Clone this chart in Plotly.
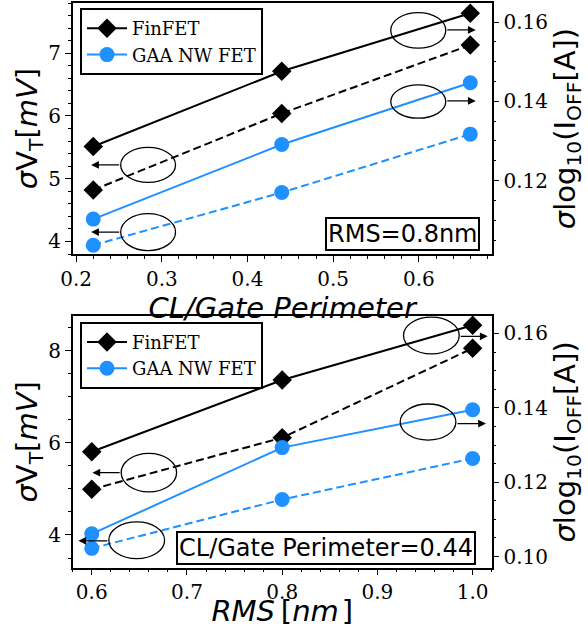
import plotly.graph_objects as go

# ---------------- data ----------------
x_cl = [0.22, 0.44, 0.66]
top_fin_vt = [4.82, 6.04, 7.13]        # dashed, left axis (sigma VT)
top_gaa_vt = [3.94, 4.78, 5.71]
top_fin_ioff = [0.1286, 0.1476, 0.1622]  # solid, right axis
top_gaa_ioff = [0.1103, 0.1291, 0.1447]

x_rms = [0.6, 0.8, 1.0]
bot_fin_vt = [4.99, 6.11, 8.05]
bot_gaa_vt = [3.71, 4.77, 5.66]
bot_fin_ioff = [0.1282, 0.1475, 0.1622]
bot_gaa_ioff = [0.1061, 0.1293, 0.1395]

series_names = ["FinFET", "GAA NW FET"]
box_labels = ["RMS=0.8nm", "CL/Gate Perimeter=0.44"]

BLACK = "black"
BLUE = "#1E90FF"
W, H = 588, 628

fig = go.Figure()

def add_series(x, y, color, symbol, size, dash, xa, ya, name, showlegend, legend):
    fig.add_trace(go.Scatter(
        x=x, y=y, mode="lines+markers", name=name,
        line=dict(color=color, width=2, dash=dash),
        marker=dict(color=color, symbol=symbol, size=size, line=dict(width=0)),
        xaxis=xa, yaxis=ya, showlegend=showlegend, legend=legend,
    ))

# top panel
add_series(x_cl, top_fin_ioff, BLACK, "diamond", 15, "solid", "x", "y2", series_names[0], True, "legend")
add_series(x_cl, top_gaa_ioff, BLUE, "circle", 15, "solid", "x", "y2", series_names[1], True, "legend")
add_series(x_cl, top_fin_vt, BLACK, "diamond", 15, "8px,4px", "x", "y", series_names[0], False, "legend")
add_series(x_cl, top_gaa_vt, BLUE, "circle", 15, "8px,4px", "x", "y", series_names[1], False, "legend")
# bottom panel
add_series(x_rms, bot_fin_ioff, BLACK, "diamond", 15, "solid", "x2", "y4", series_names[0], True, "legend2")
add_series(x_rms, bot_gaa_ioff, BLUE, "circle", 15, "solid", "x2", "y4", series_names[1], True, "legend2")
add_series(x_rms, bot_fin_vt, BLACK, "diamond", 15, "8px,4px", "x2", "y3", series_names[0], False, "legend2")
add_series(x_rms, bot_gaa_vt, BLUE, "circle", 15, "8px,4px", "x2", "y3", series_names[1], False, "legend2")

xdom = [72.7 / W, 491.7 / W]
top_dom = [1 - 254 / H, 1 - 3 / H]
bot_dom = [1 - 567.7 / H, 1 - 316 / H]

tickfont = dict(family="DejaVu Serif", size=20, color="black")
titlefont = dict(family="DejaVu Sans", size=29, color="black")

def axis(**kw):
    base = dict(showgrid=False, zeroline=False, showline=True, linecolor="black", linewidth=1.5,
                ticks="outside", ticklen=6, tickwidth=1.2, tickcolor="black", tickfont=tickfont,
                automargin=False)
    base.update(kw)
    return base

fig.update_layout(
    width=W, height=H, autosize=False,
    margin=dict(l=0, r=0, t=0, b=0),
    paper_bgcolor="white", plot_bgcolor="white",
    xaxis=axis(domain=xdom, anchor="y", range=[0.196, 0.685], dtick=0.1, tick0=0.2, mirror=True,
               minor=dict(dtick=0.02, ticks="outside", ticklen=3, tickcolor="black"),
               title=dict(text="<i>CL/Gate Perimeter</i>", font=titlefont, standoff=0)),
    yaxis=axis(domain=top_dom, anchor="x", range=[3.8, 7.8], dtick=1,
               minor=dict(dtick=0.2, ticks="outside", ticklen=3, tickcolor="black"),
               title=dict(text="<i>σ</i>V<sub>T</sub>[<i>mV</i>]", font=titlefont, standoff=2)),
    yaxis2=axis(domain=top_dom, anchor="x", overlaying="y", side="right", range=[0.1015, 0.1648],
                dtick=0.02, tick0=0.1, tickformat=".2f",
                minor=dict(dtick=0.005, ticks="outside", ticklen=3, tickcolor="black"),
                title=dict(text="<i>σ</i>log<sub>10</sub>(I<sub>OFF</sub>[A])", font=titlefont, standoff=2)),
    xaxis2=axis(domain=xdom, anchor="y3", range=[0.58, 1.02], dtick=0.1, tick0=0.6, tickformat=".1f", mirror=True,
                minor=dict(dtick=0.02, ticks="outside", ticklen=3, tickcolor="black"),
                title=dict(text="<i>RMS</i>\u2009[<i>nm</i>\u200a]", font=titlefont, standoff=4)),
    yaxis3=axis(domain=bot_dom, anchor="x2", range=[3.29, 8.75], dtick=2,
                minor=dict(dtick=0.5, ticks="outside", ticklen=3, tickcolor="black"),
                title=dict(text="<i>σ</i>V<sub>T</sub>[<i>mV</i>]", font=titlefont, standoff=2)),
    yaxis4=axis(domain=bot_dom, anchor="x2", overlaying="y3", side="right", range=[0.097, 0.1647],
                dtick=0.02, tick0=0.1, tickformat=".2f",
                minor=dict(dtick=0.005, ticks="outside", ticklen=3, tickcolor="black"),
                title=dict(text="<i>σ</i>log<sub>10</sub>(I<sub>OFF</sub>[A])", font=titlefont, standoff=2)),
    legend=dict(x=80 / W, y=1 - 8 / H, xanchor="left", yanchor="top",
                bgcolor="white", bordercolor="black", borderwidth=2,
                font=dict(family="DejaVu Serif", size=18, color="black"),
                itemwidth=40, tracegroupgap=0),
    legend2=dict(x=80 / W, y=1 - 321.7 / H, xanchor="left", yanchor="top",
                 bgcolor="white", bordercolor="black", borderwidth=2,
                 font=dict(family="DejaVu Serif", size=18, color="black"),
                 itemwidth=40, tracegroupgap=0),
)

# ellipses (annotation callouts)
ellipses = [
    ("x", "y", 0.252, 4.94, 0.316, 5.50),
    ("x", "y", 0.252, 3.855, 0.316, 4.445),
    ("x", "y", 0.5672, 7.08, 0.6314, 7.647),
    ("x", "y", 0.5672, 5.964, 0.6314, 6.495),
    ("x2", "y3", 0.6309, 4.935, 0.6891, 5.77),
    ("x2", "y3", 0.6179, 3.487, 0.6765, 4.283),
    ("x2", "y3", 0.9274, 7.928, 0.9859, 8.726),
    ("x2", "y3", 0.9239, 6.059, 0.9824, 6.841),
]
for xr, yr, x0, y0, x1, y1 in ellipses:
    fig.add_shape(type="circle", xref=xr, yref=yr, x0=x0, y0=y0, x1=x1, y1=y1,
                  line=dict(color="black", width=1.3), fillcolor="rgba(0,0,0,0)")

arrows = [
    ("x", "y", 0.2175, 5.22, 0.252, 5.22),
    ("x", "y", 0.2175, 4.15, 0.252, 4.15),
    ("x", "y", 0.6664, 7.371, 0.6314, 7.371),
    ("x", "y", 0.6664, 6.24, 0.6314, 6.24),
    ("x2", "y3", 0.6007, 5.352, 0.6309, 5.352),
    ("x2", "y3", 0.586, 3.874, 0.6179, 3.874),
    ("x2", "y3", 1.0158, 8.309, 0.9859, 8.309),
    ("x2", "y3", 1.014, 6.417, 0.9824, 6.417),
]
for xr, yr, xh, yh, xt, yt in arrows:
    fig.add_annotation(xref=xr, yref=yr, x=xh, y=yh, axref=xr, ayref=yr, ax=xt, ay=yt,
                       text="", showarrow=True, arrowhead=2, arrowsize=1.2, arrowwidth=1.3,
                       arrowcolor="black", standoff=0, startstandoff=0)

boxfont = dict(family="DejaVu Sans", size=24, color="black")
fig.add_annotation(xref="paper", yref="paper", x=402.2 / W, y=1 - 233.8 / H, text=box_labels[0],
                   showarrow=False, font=boxfont, bordercolor="black", borderwidth=2,
                   borderpad=1, bgcolor="white", xanchor="center", yanchor="middle")
fig.add_annotation(xref="paper", yref="paper", x=326 / W, y=1 - 547.7 / H, text=box_labels[1],
                   showarrow=False, font=boxfont, bordercolor="black", borderwidth=2,
                   borderpad=1, bgcolor="white", xanchor="center", yanchor="middle")

fig.write_html("out.html", config={"displayModeBar": False},
               post_script="document.body.style.margin='0';document.body.style.overflow='hidden';")
